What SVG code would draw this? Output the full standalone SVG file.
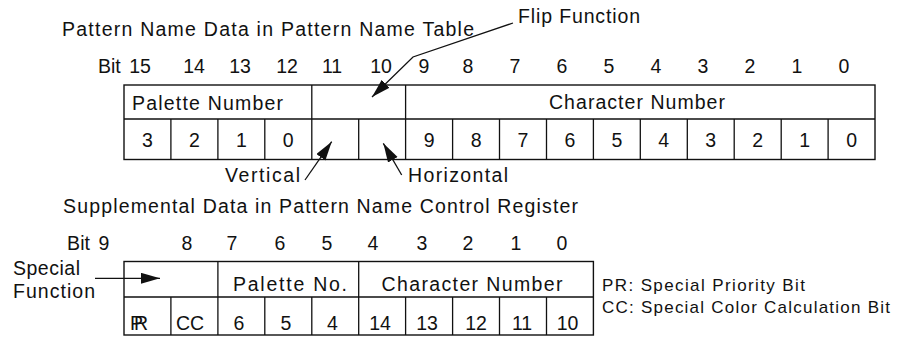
<svg xmlns="http://www.w3.org/2000/svg" width="900" height="337" viewBox="0 0 900 337">
<defs>
<style>
text{font-family:"Liberation Sans",Arial,sans-serif;font-size:19.5px;fill:#111}
.c{text-anchor:middle}
.lg{font-size:17px}
.box{fill:none;stroke:#111;stroke-width:1.4}
.ln{stroke:#111;stroke-width:1.3;fill:none}
</style>
<marker id="ah" markerUnits="userSpaceOnUse" markerWidth="22" markerHeight="12" refX="19" refY="5.5" orient="auto">
<path d="M0,0 L19,5.5 L0,11 Z" fill="#111"/>
</marker>
</defs>
<rect width="900" height="337" fill="#fff"/>
<g id="title1"><text x="62" y="36" textLength="412" lengthAdjust="spacing">Pattern Name Data in Pattern Name Table</text></g>
<g id="bits1">
<text x="98" y="73">Bit</text>
<text class="c" x="140" y="73">15</text><text class="c" x="194" y="73">14</text><text class="c" x="240" y="73">13</text><text class="c" x="287" y="73">12</text><text class="c" x="332" y="73">11</text><text class="c" x="381" y="73">10</text>
<text class="c" x="424" y="73">9</text><text class="c" x="468" y="73">8</text><text class="c" x="515" y="73">7</text><text class="c" x="562" y="73">6</text><text class="c" x="609" y="73">5</text><text class="c" x="656" y="73">4</text><text class="c" x="703" y="73">3</text><text class="c" x="750" y="73">2</text><text class="c" x="797" y="73">1</text><text class="c" x="844" y="73">0</text>
</g>
<g id="table1">
<rect class="box" x="124" y="85" width="751" height="74.5"/>
<path class="ln" d="M124,119H875M311.8,85V159.5M405.6,85V159.5M170.9,119V159.5M217.9,119V159.5M264.8,119V159.5M358.7,119V159.5M452.6,119V159.5M499.5,119V159.5M546.5,119V159.5M593.4,119V159.5M640.3,119V159.5M687.3,119V159.5M734.2,119V159.5M781.2,119V159.5M828.1,119V159.5"/>
<text x="132" y="110" textLength="151" lengthAdjust="spacing">Palette Number</text>
<text class="c" x="637" y="109" textLength="176" lengthAdjust="spacing">Character Number</text>
<text class="c" x="147.5" y="147">3</text><text class="c" x="194.4" y="147">2</text><text class="c" x="241.4" y="147">1</text><text class="c" x="288.3" y="147">0</text>
<text class="c" x="429.1" y="147">9</text><text class="c" x="476.1" y="147">8</text><text class="c" x="523" y="147">7</text><text class="c" x="570" y="147">6</text><text class="c" x="616.9" y="147">5</text><text class="c" x="663.8" y="147">4</text><text class="c" x="710.8" y="147">3</text><text class="c" x="757.7" y="147">2</text><text class="c" x="804.7" y="147">1</text><text class="c" x="851.6" y="147">0</text>
</g>
<g id="flip"><text x="518" y="23" textLength="122" lengthAdjust="spacing">Flip Function</text></g>
<g id="vertical"><text x="225" y="182" textLength="75" lengthAdjust="spacing">Vertical</text></g>
<g id="horizontal"><text x="408" y="182" textLength="100" lengthAdjust="spacing">Horizontal</text></g>
<g id="title2"><text x="63" y="213" textLength="515" lengthAdjust="spacing">Supplemental Data in Pattern Name Control Register</text></g>
<g id="bits2">
<text x="67" y="250" textLength="23" lengthAdjust="spacing">Bit</text>
<text class="c" x="104" y="250">9</text><text class="c" x="187" y="250">8</text><text class="c" x="232" y="250">7</text><text class="c" x="280" y="250">6</text><text class="c" x="327" y="250">5</text><text class="c" x="373" y="250">4</text><text class="c" x="422" y="250">3</text><text class="c" x="468" y="250">2</text><text class="c" x="516" y="250">1</text><text class="c" x="562" y="250">0</text>
</g>
<g id="special"><text x="13" y="275" textLength="67" lengthAdjust="spacing">Special</text><text x="13" y="298" textLength="82" lengthAdjust="spacing">Function</text></g>
<g id="table2">
<rect class="box" x="124" y="261.5" width="469.4" height="73.5"/>
<path class="ln" d="M124,297H593.4M217.9,261.5V335M358.7,261.5V335M170.9,297V335M264.8,297V335M311.8,297V335M405.6,297V335M452.6,297V335M499.5,297V335M546.5,297V335"/>
<text class="c" x="290" y="291" textLength="114" lengthAdjust="spacing">Palette No.</text>
<text class="c" x="472" y="291" textLength="181" lengthAdjust="spacing">Character Number</text>
<text x="130" y="330" textLength="18" lengthAdjust="spacing">PR</text>
<text class="c" x="190" y="330">CC</text><text class="c" x="239" y="330">6</text><text class="c" x="286" y="330">5</text><text class="c" x="332.5" y="330">4</text><text class="c" x="380" y="330">14</text><text class="c" x="427" y="330">13</text><text class="c" x="476" y="330">12</text><text class="c" x="522" y="330">11</text><text class="c" x="567.5" y="330">10</text>
</g>
<g id="legend">
<text class="lg" x="602" y="291" textLength="203" lengthAdjust="spacing">PR:  Special Priority Bit</text>
<text class="lg" x="602" y="313" textLength="288" lengthAdjust="spacing">CC:  Special Color Calculation Bit</text>
</g>
<g id="connectors">
<path class="ln" d="M513,23 L413,57 L372,97" marker-end="url(#ah)"/>
<path class="ln" d="M305,180 L331.7,141.7" marker-end="url(#ah)"/>
<path class="ln" d="M401.7,175 L383.3,143.3" marker-end="url(#ah)"/>
<path class="ln" d="M95,278.3 L160,278.3" marker-end="url(#ah)"/>
</g>
</svg>
